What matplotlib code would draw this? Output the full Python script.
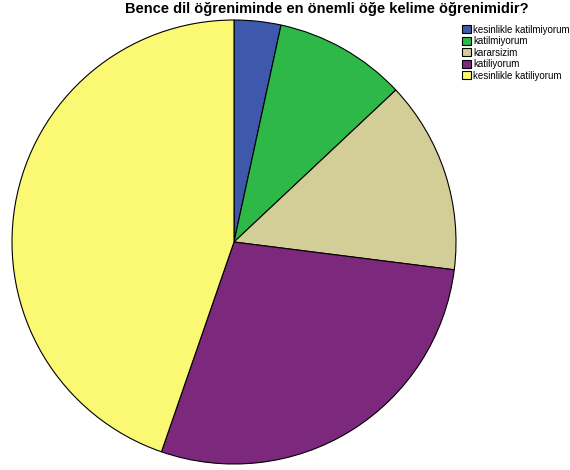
import matplotlib
matplotlib.use("Agg")
import matplotlib.pyplot as plt

labels = ["kesinlikle katilmiyorum", "katilmiyorum", "kararsizim",
          "katiliyorum", "kesinlikle katiliyorum"]
values = [3.4, 9.6, 14.0, 28.3, 44.7]
colors = ["#3e58ac", "#2eb848", "#d3ce97", "#7c287d", "#fbf873"]

W, H = 570, 470
fig = plt.figure(figsize=(W / 100, H / 100), dpi=100)

cx, cy, r = 234, 242, 222
ax = fig.add_axes([(cx - r) / W, (H - cy - r) / H, 2 * r / W, 2 * r / H])
wedges, _ = ax.pie(values, colors=colors, startangle=90, counterclock=False,
                   wedgeprops=dict(edgecolor="black", linewidth=0.8))
ax.set_aspect("equal")
ax.set_xlim(-1, 1)
ax.set_ylim(-1, 1)

fig.text(327 / W, 1 - 9 / H, "Bence dil öğreniminde en önemli öğe kelime öğrenimidir?",
         ha="center", va="center", fontsize=10.5, fontweight="bold",
         family="Liberation Sans")

leg = fig.legend(wedges, labels, loc="upper left",
                 bbox_to_anchor=(455 / W, 1 - 18 / H), frameon=False,
                 prop=dict(family="Liberation Sans", size=7),
                 handlelength=0.9, handleheight=0.9, handletextpad=0.3,
                 labelspacing=0.15, borderpad=0.2)

fig.savefig("out.png", dpi=100)
